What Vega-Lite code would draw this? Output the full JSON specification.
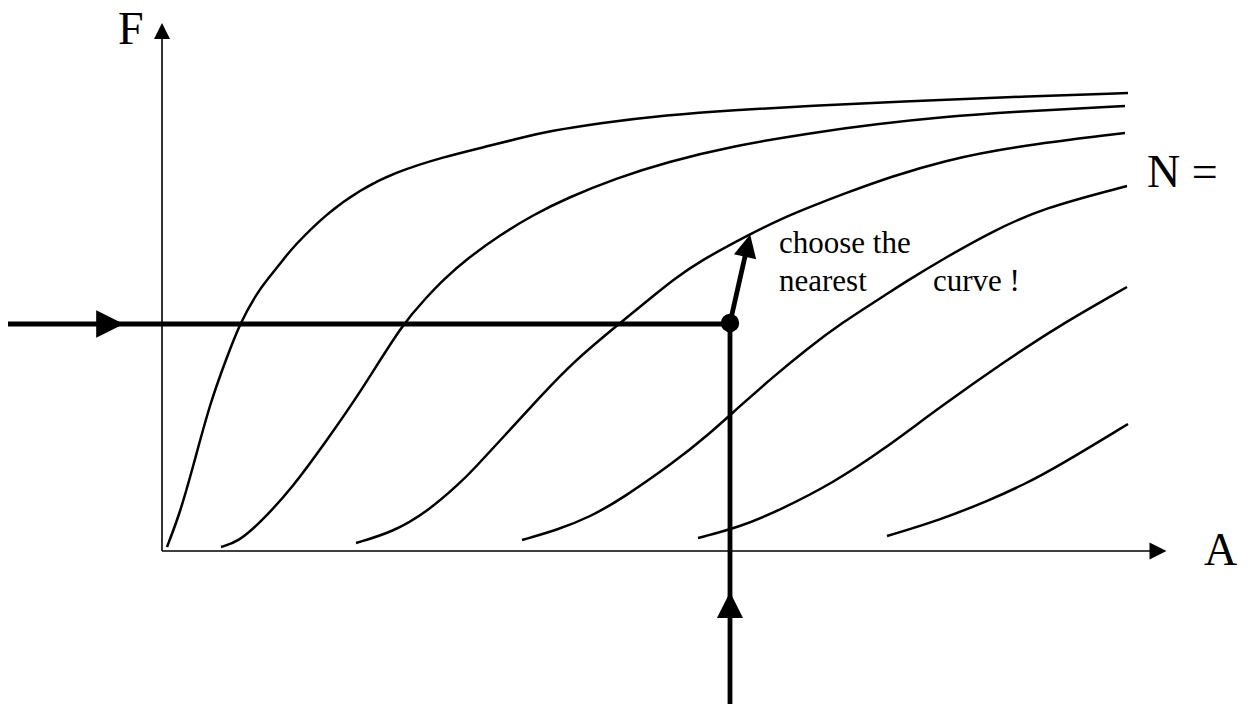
{
  "$schema": "https://vega.github.io/schema/vega-lite/v6.json",
  "width": 1248,
  "height": 704,
  "autosize": {"type": "none"},
  "padding": 0,
  "background": "white",
  "config": {"view": {"stroke": null}},
  "datasets": {
    "curves": [
      {"curve": "N1", "A": 167, "F": 157}, {"curve": "N1", "A": 180, "F": 191}, {"curve": "N1", "A": 193, "F": 237}, {"curve": "N1", "A": 210, "F": 301}, {"curve": "N1", "A": 227, "F": 347}, {"curve": "N1", "A": 240, "F": 381}, {"curve": "N1", "A": 257, "F": 411}, {"curve": "N1", "A": 267, "F": 424}, {"curve": "N1", "A": 283, "F": 444}, {"curve": "N1", "A": 293, "F": 457}, {"curve": "N1", "A": 327, "F": 491}, {"curve": "N1", "A": 360, "F": 514}, {"curve": "N1", "A": 393, "F": 531}, {"curve": "N1", "A": 443, "F": 547}, {"curve": "N1", "A": 493, "F": 559}, {"curve": "N1", "A": 520, "F": 566}, {"curve": "N1", "A": 550, "F": 573}, {"curve": "N1", "A": 600, "F": 581}, {"curve": "N1", "A": 667, "F": 589}, {"curve": "N1", "A": 733, "F": 594}, {"curve": "N1", "A": 810, "F": 598}, {"curve": "N1", "A": 910, "F": 603}, {"curve": "N1", "A": 1010, "F": 607}, {"curve": "N1", "A": 1128, "F": 611},
      {"curve": "N2", "A": 221, "F": 157}, {"curve": "N2", "A": 238, "F": 162}, {"curve": "N2", "A": 260, "F": 181}, {"curve": "N2", "A": 293, "F": 217}, {"curve": "N2", "A": 327, "F": 264}, {"curve": "N2", "A": 360, "F": 311}, {"curve": "N2", "A": 403, "F": 381}, {"curve": "N2", "A": 427, "F": 407}, {"curve": "N2", "A": 443, "F": 424}, {"curve": "N2", "A": 468, "F": 446}, {"curve": "N2", "A": 500, "F": 469}, {"curve": "N2", "A": 533, "F": 489}, {"curve": "N2", "A": 567, "F": 506}, {"curve": "N2", "A": 617, "F": 526}, {"curve": "N2", "A": 667, "F": 542}, {"curve": "N2", "A": 733, "F": 558}, {"curve": "N2", "A": 810, "F": 571}, {"curve": "N2", "A": 877, "F": 580}, {"curve": "N2", "A": 943, "F": 587}, {"curve": "N2", "A": 1010, "F": 592}, {"curve": "N2", "A": 1125, "F": 598},
      {"curve": "N3", "A": 356, "F": 161}, {"curve": "N3", "A": 393, "F": 172}, {"curve": "N3", "A": 427, "F": 192}, {"curve": "N3", "A": 460, "F": 221}, {"curve": "N3", "A": 473, "F": 234}, {"curve": "N3", "A": 507, "F": 271}, {"curve": "N3", "A": 540, "F": 307}, {"curve": "N3", "A": 573, "F": 342}, {"curve": "N3", "A": 620, "F": 381}, {"curve": "N3", "A": 657, "F": 411}, {"curve": "N3", "A": 673, "F": 424}, {"curve": "N3", "A": 700, "F": 443}, {"curve": "N3", "A": 750, "F": 470}, {"curve": "N3", "A": 783, "F": 486}, {"curve": "N3", "A": 810, "F": 497}, {"curve": "N3", "A": 843, "F": 510}, {"curve": "N3", "A": 893, "F": 528}, {"curve": "N3", "A": 943, "F": 543}, {"curve": "N3", "A": 1010, "F": 557}, {"curve": "N3", "A": 1125, "F": 571},
      {"curve": "N4", "A": 522, "F": 164}, {"curve": "N4", "A": 557, "F": 174}, {"curve": "N4", "A": 590, "F": 187}, {"curve": "N4", "A": 623, "F": 206}, {"curve": "N4", "A": 673, "F": 241}, {"curve": "N4", "A": 707, "F": 268}, {"curve": "N4", "A": 740, "F": 298}, {"curve": "N4", "A": 773, "F": 327}, {"curve": "N4", "A": 807, "F": 355}, {"curve": "N4", "A": 840, "F": 380}, {"curve": "N4", "A": 890, "F": 412}, {"curve": "N4", "A": 907, "F": 423}, {"curve": "N4", "A": 943, "F": 445}, {"curve": "N4", "A": 993, "F": 473}, {"curve": "N4", "A": 1043, "F": 496}, {"curve": "N4", "A": 1127, "F": 518},
      {"curve": "N5", "A": 698, "F": 166}, {"curve": "N5", "A": 740, "F": 177}, {"curve": "N5", "A": 780, "F": 194}, {"curve": "N5", "A": 833, "F": 221}, {"curve": "N5", "A": 883, "F": 254}, {"curve": "N5", "A": 940, "F": 297}, {"curve": "N5", "A": 1007, "F": 344}, {"curve": "N5", "A": 1057, "F": 377}, {"curve": "N5", "A": 1127, "F": 417},
      {"curve": "N6", "A": 887, "F": 168}, {"curve": "N6", "A": 940, "F": 184}, {"curve": "N6", "A": 990, "F": 204}, {"curve": "N6", "A": 1023, "F": 219}, {"curve": "N6", "A": 1057, "F": 237}, {"curve": "N6", "A": 1128, "F": 280}
    ],
    "axes": [
      {"axis": "F", "A": 162, "F": 153, "A2": 162, "F2": 665},
      {"axis": "A", "A": 162, "F": 153, "A2": 1150, "F2": 153}
    ],
    "paths": [
      {"seg": "in", "A": 8, "F": 380}, {"seg": "in", "A": 730, "F": 380},
      {"seg": "up", "A": 730, "F": 0}, {"seg": "up", "A": 730, "F": 381},
      {"seg": "pick", "A": 730, "F": 381}, {"seg": "pick", "A": 746, "F": 452}
    ],
    "headRight": [
      {"name": "input", "A": 110, "F": 380, "s": 760},
      {"name": "axisA", "A": 1158, "F": 153, "s": 290}
    ],
    "headUp": [
      {"name": "axisF", "A": 162, "F": 673, "s": 256},
      {"name": "bottom", "A": 730, "F": 99, "s": 680}
    ],
    "headPick": [{"name": "pick", "A": 747.6, "F": 458.3}],
    "dot": [{"name": "point", "A": 730, "F": 381}],
    "bigText": [
      {"label": "F", "A": 118, "F": 660},
      {"label": "A", "A": 1204, "F": 139},
      {"label": "N =", "A": 1147, "F": 517}
    ],
    "smallText": [
      {"label": "choose the", "A": 779, "F": 451},
      {"label": "nearest", "A": 779, "F": 413},
      {"label": "curve !", "A": 933, "F": 413}
    ]
  },
  "encoding": {
    "x": {"field": "A", "type": "quantitative", "scale": {"domain": [0, 1248], "nice": false, "zero": false}, "axis": null},
    "y": {"field": "F", "type": "quantitative", "scale": {"domain": [0, 704], "nice": false, "zero": false}, "axis": null}
  },
  "layer": [
    {
      "data": {"name": "axes"},
      "mark": {"type": "rule", "color": "black", "strokeWidth": 1.6},
      "encoding": {"x2": {"field": "A2"}, "y2": {"field": "F2"}}
    },
    {
      "data": {"name": "curves"},
      "mark": {"type": "line", "color": "black", "strokeWidth": 2.5, "interpolate": "basis"},
      "encoding": {"detail": {"field": "curve"}}
    },
    {
      "data": {"name": "paths"},
      "mark": {"type": "line", "color": "black", "strokeWidth": 4.8, "strokeCap": "butt"},
      "encoding": {"detail": {"field": "seg"}, "order": {"field": "F"}}
    },
    {
      "data": {"name": "headRight"},
      "mark": {"type": "point", "shape": "M-1,-1L1,0L-1,1Z", "filled": true, "color": "black", "opacity": 1, "strokeWidth": 0},
      "encoding": {"size": {"field": "s", "type": "quantitative", "scale": null}}
    },
    {
      "data": {"name": "headUp"},
      "mark": {"type": "point", "shape": "M-1,1L0,-1L1,1Z", "filled": true, "color": "black", "opacity": 1, "strokeWidth": 0},
      "encoding": {"size": {"field": "s", "type": "quantitative", "scale": null}}
    },
    {
      "data": {"name": "headPick"},
      "mark": {"type": "point", "shape": "M-1,1L0,-1L1,1Z", "filled": true, "color": "black", "opacity": 1, "strokeWidth": 0, "size": 520, "angle": 12.8}
    },
    {
      "data": {"name": "dot"},
      "mark": {"type": "point", "shape": "circle", "filled": true, "color": "black", "opacity": 1, "size": 340}
    },
    {
      "data": {"name": "bigText"},
      "mark": {"type": "text", "font": "Liberation Serif", "fontSize": 46, "align": "left", "baseline": "alphabetic", "color": "black"},
      "encoding": {"text": {"field": "label"}}
    },
    {
      "data": {"name": "smallText"},
      "mark": {"type": "text", "font": "Liberation Serif", "fontSize": 31, "align": "left", "baseline": "alphabetic", "color": "black"},
      "encoding": {"text": {"field": "label"}}
    }
  ]
}
